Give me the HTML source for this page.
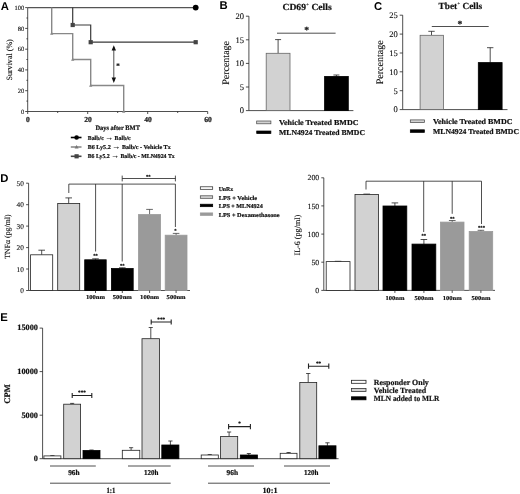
<!DOCTYPE html>
<html lang="en"><head><meta charset="utf-8"><title>Figure</title>
<style>
html,body{margin:0;padding:0;background:#fff;}
body{width:520px;height:494px;overflow:hidden;}
svg{display:block;filter:blur(0.35px);}
text{font-family:"Liberation Serif","DejaVu Serif",serif;fill:#111;text-rendering:geometricPrecision;stroke:#111;stroke-width:0.12px;}
.b{font-weight:bold;stroke:#111;stroke-width:0.2px;}
.pl{stroke:none;font-family:"Liberation Sans","DejaVu Sans",sans-serif;font-weight:bold;font-size:11.3px;fill:#000;}
.ax{stroke:#222;stroke-width:0.8;fill:none;}
.th{stroke:#222;stroke-width:0.8;fill:none;}
</style></head><body>
<svg width="520" height="494" viewBox="0 0 520 494">
<rect x="0" y="0" width="520" height="494" fill="#fff"/>

<!-- Panel A -->
<text transform="translate(0.8,9.7)" class="pl">A</text>
<line x1="27.7" y1="7.6" x2="27.7" y2="111.5" class="ax" />
<line x1="27.7" y1="111.5" x2="207.7" y2="111.5" class="ax" />
<line x1="25.2" y1="111.5" x2="27.7" y2="111.5" class="ax" />
<text x="24.2" y="113.7" font-size="6.5" text-anchor="end" >0</text>
<line x1="25.2" y1="90.7" x2="27.7" y2="90.7" class="ax" />
<text x="24.2" y="92.9" font-size="6.5" text-anchor="end" >20</text>
<line x1="25.2" y1="69.9" x2="27.7" y2="69.9" class="ax" />
<text x="24.2" y="72.1" font-size="6.5" text-anchor="end" >40</text>
<line x1="25.2" y1="49.2" x2="27.7" y2="49.2" class="ax" />
<text x="24.2" y="51.4" font-size="6.5" text-anchor="end" >60</text>
<line x1="25.2" y1="28.4" x2="27.7" y2="28.4" class="ax" />
<text x="24.2" y="30.6" font-size="6.5" text-anchor="end" >80</text>
<line x1="25.2" y1="7.6" x2="27.7" y2="7.6" class="ax" />
<text x="24.2" y="9.8" font-size="6.5" text-anchor="end" >100</text>
<line x1="27.7" y1="111.5" x2="27.7" y2="114.0" class="ax" />
<text x="28.0" y="122.4" font-size="7.6" text-anchor="middle" class="b" >0</text>
<line x1="87.7" y1="111.5" x2="87.7" y2="114.0" class="ax" />
<text x="88.0" y="122.4" font-size="7.6" text-anchor="middle" class="b" >20</text>
<line x1="147.7" y1="111.5" x2="147.7" y2="114.0" class="ax" />
<text x="148.0" y="122.4" font-size="7.6" text-anchor="middle" class="b" >40</text>
<line x1="207.7" y1="111.5" x2="207.7" y2="114.0" class="ax" />
<text x="208.0" y="122.4" font-size="7.6" text-anchor="middle" class="b" >60</text>
<line x1="57.7" y1="111.5" x2="57.7" y2="113.0" class="ax" />
<line x1="117.7" y1="111.5" x2="117.7" y2="113.0" class="ax" />
<line x1="177.7" y1="111.5" x2="177.7" y2="113.0" class="ax" />
<line x1="26.4" y1="101.1" x2="27.7" y2="101.1" class="ax" />
<line x1="26.4" y1="80.3" x2="27.7" y2="80.3" class="ax" />
<line x1="26.4" y1="59.5" x2="27.7" y2="59.5" class="ax" />
<line x1="26.4" y1="38.8" x2="27.7" y2="38.8" class="ax" />
<line x1="26.4" y1="18.0" x2="27.7" y2="18.0" class="ax" />
<text transform="translate(11.6,59.9) rotate(-90)" font-size="8.05" text-anchor="middle">Survival (%)</text>
<text x="117.7" y="129.8" font-size="6.8" text-anchor="middle" class="b" textLength="44.6" lengthAdjust="spacingAndGlyphs">Days after BMT</text>
<path d="M27.7 7.599999999999994H195.7" stroke="#555" stroke-width="1.2" fill="none"/>
<circle cx="195.7" cy="7.6" r="2.9" fill="#000"/>
<path d="M51.7 7.6V33.6H72.7V59.5H90.7V85.5H123.7V111.5" stroke="#888" stroke-width="1.4" fill="none"/>
<path d="M50.1 34.8L51.7 31.6L53.3 34.8Z" fill="#888"/>
<path d="M71.1 60.8L72.7 57.5L74.3 60.8Z" fill="#888"/>
<path d="M89.1 86.7L90.7 83.5L92.3 86.7Z" fill="#888"/>
<path d="M122.1 112.7L123.7 109.5L125.3 112.7Z" fill="#888"/>
<path d="M72.7 7.6V25.0H90.7V42.2H195.7" stroke="#3a3a3a" stroke-width="1.2" fill="none"/>
<rect x="70.6" y="22.9" width="4.2" height="4.2" fill="#444"/>
<rect x="88.6" y="40.1" width="4.2" height="4.2" fill="#444"/>
<rect x="193.6" y="40.1" width="4.2" height="4.2" fill="#444"/>
<path d="M113.8 47V81" stroke="#222" stroke-width="0.8" fill="none"/>
<path d="M111.6 50.6L113.8 45.3L116.0 50.6Z M111.6 77.6L113.8 82.9L116.0 77.6Z" fill="#111"/>
<text x="118.0" y="67.6" font-size="7" text-anchor="middle" class="b" >*</text>
<line x1="70.8" y1="137.5" x2="81.5" y2="137.5" class="ax" style="stroke:#000;stroke-width:1.6"/>
<line x1="70.8" y1="147.0" x2="81.5" y2="147.0" class="ax" style="stroke:#8a8a8a;stroke-width:1.6"/>
<line x1="70.8" y1="156.3" x2="81.5" y2="156.3" class="ax" style="stroke:#444;stroke-width:1.6"/>
<circle cx="76.6" cy="137.5" r="2.3" fill="#000"/>
<path d="M74.6 148.5L76.6 145.0L78.6 148.5Z" fill="#777"/>
<rect x="74.5" y="154.2" width="4.2" height="4.2" fill="#444"/>
<text x="87.7" y="139.6" font-size="6" text-anchor="start" class="b" textLength="43" lengthAdjust="spacingAndGlyphs">Balb/c <tspan font-size="8">→</tspan> Balb/c</text>
<text x="87.7" y="149.1" font-size="6" text-anchor="start" class="b" textLength="83" lengthAdjust="spacingAndGlyphs">B6 Ly5.2 <tspan font-size="8">→</tspan> Balb/c - Vehicle Tx</text>
<text x="87.7" y="158.4" font-size="6" text-anchor="start" class="b" textLength="87" lengthAdjust="spacingAndGlyphs">B6 Ly5.2 <tspan font-size="8">→</tspan> Balb/c - MLN4924 Tx</text>
<!-- Panel B -->
<text transform="translate(219.5,9.2)" class="pl">B</text>
<line x1="248.9" y1="16.2" x2="248.9" y2="110.6" class="ax" />
<line x1="248.9" y1="110.6" x2="353.4" y2="110.6" class="ax" />
<line x1="245.9" y1="110.6" x2="248.9" y2="110.6" class="ax" />
<text x="244.0" y="113.4" font-size="8.5" text-anchor="end" >0</text>
<line x1="245.9" y1="87.0" x2="248.9" y2="87.0" class="ax" />
<text x="244.0" y="89.8" font-size="8.5" text-anchor="end" >5</text>
<line x1="245.9" y1="63.4" x2="248.9" y2="63.4" class="ax" />
<text x="244.0" y="66.2" font-size="8.5" text-anchor="end" >10</text>
<line x1="245.9" y1="39.8" x2="248.9" y2="39.8" class="ax" />
<text x="244.0" y="42.6" font-size="8.5" text-anchor="end" >15</text>
<line x1="245.9" y1="16.2" x2="248.9" y2="16.2" class="ax" />
<text x="244.0" y="19.0" font-size="8.5" text-anchor="end" >20</text>
<text transform="translate(228.9,62.9) rotate(-90)" font-size="10" text-anchor="middle">Percentage</text>
<text x="282.5" y="9.9" font-size="9.3" class="b" textLength="49.2" lengthAdjust="spacingAndGlyphs">CD69<tspan dy="-3.8" font-size="5.2" style="stroke:none">+</tspan><tspan dy="3.8"> Cells</tspan></text>
<path d="M278.1 53.4V39.6M275.1 39.6H281.1" stroke="#222" stroke-width="0.8" fill="none"/>
<rect x="266.2" y="53.3" width="23.8" height="57.3" fill="#d2d2d2" stroke="#666" stroke-width="0.8"/>
<path d="M336.4 76.4V75.0M333.4 75.0H339.4" stroke="#222" stroke-width="0.8" fill="none"/>
<rect x="324.6" y="76.4" width="23.7" height="34.2" fill="#000" stroke="#000" stroke-width="0.8"/>
<line x1="277.0" y1="33.2" x2="335.6" y2="33.2" class="ax" />
<text x="306.7" y="33.3" font-size="9.5" text-anchor="middle" class="b" >*</text>
<rect x="256.7" y="121.0" width="14.2" height="2.8" fill="#d2d2d2" stroke="#444" stroke-width="0.7"/>
<rect x="256.7" y="131.0" width="14.2" height="2.6" fill="#000" stroke="#000" stroke-width="0.7"/>
<text x="279.0" y="125.3" font-size="7.5" text-anchor="start" class="b" textLength="79.5" lengthAdjust="spacingAndGlyphs">Vehicle Treated BMDC</text>
<text x="279.0" y="135.3" font-size="7.5" text-anchor="start" class="b" textLength="86" lengthAdjust="spacingAndGlyphs">MLN4924 Treated BMDC</text>
<!-- Panel C -->
<text transform="translate(374.0,9.7)" class="pl">C</text>
<line x1="402.7" y1="15.2" x2="402.7" y2="109.6" class="ax" />
<line x1="402.7" y1="109.6" x2="507.5" y2="109.6" class="ax" />
<line x1="399.7" y1="109.6" x2="402.7" y2="109.6" class="ax" />
<text x="397.8" y="112.4" font-size="8.5" text-anchor="end" >0</text>
<line x1="399.7" y1="90.7" x2="402.7" y2="90.7" class="ax" />
<text x="397.8" y="93.5" font-size="8.5" text-anchor="end" >5</text>
<line x1="399.7" y1="71.8" x2="402.7" y2="71.8" class="ax" />
<text x="397.8" y="74.6" font-size="8.5" text-anchor="end" >10</text>
<line x1="399.7" y1="53.0" x2="402.7" y2="53.0" class="ax" />
<text x="397.8" y="55.8" font-size="8.5" text-anchor="end" >15</text>
<line x1="399.7" y1="34.1" x2="402.7" y2="34.1" class="ax" />
<text x="397.8" y="36.9" font-size="8.5" text-anchor="end" >20</text>
<line x1="399.7" y1="15.2" x2="402.7" y2="15.2" class="ax" />
<text x="397.8" y="18.0" font-size="8.5" text-anchor="end" >25</text>
<text transform="translate(382.5,62.3) rotate(-90)" font-size="10" text-anchor="middle">Percentage</text>
<text x="438.6" y="9.1" font-size="9.3" class="b" textLength="43.5" lengthAdjust="spacingAndGlyphs">Tbet<tspan dy="-3.8" font-size="5.2" style="stroke:none">+</tspan><tspan dy="3.8"> Cells</tspan></text>
<path d="M431.5 35.3V31.3M428.3 31.3H434.7" stroke="#222" stroke-width="0.8" fill="none"/>
<rect x="420.1" y="35.3" width="23.3" height="74.3" fill="#d2d2d2" stroke="#666" stroke-width="0.8"/>
<path d="M490.2 62.6V47.7M487.0 47.7H493.4" stroke="#222" stroke-width="0.8" fill="none"/>
<rect x="478.3" y="62.6" width="23.8" height="47.0" fill="#000" stroke="#000" stroke-width="0.8"/>
<line x1="431.8" y1="26.5" x2="488.7" y2="26.5" class="ax" />
<text x="459.8" y="26.6" font-size="9.5" text-anchor="middle" class="b" >*</text>
<rect x="410.3" y="119.9" width="14.1" height="2.7" fill="#d2d2d2" stroke="#444" stroke-width="0.7"/>
<rect x="410.3" y="129.8" width="14.1" height="2.6" fill="#000" stroke="#000" stroke-width="0.7"/>
<text x="433.0" y="123.9" font-size="7.5" text-anchor="start" class="b" textLength="79.5" lengthAdjust="spacingAndGlyphs">Vehicle Treated BMDC</text>
<text x="433.0" y="133.8" font-size="7.5" text-anchor="start" class="b" textLength="86" lengthAdjust="spacingAndGlyphs">MLN4924 Treated BMDC</text>
<!-- Panel D -->
<text transform="translate(0.2,182.4)" class="pl">D</text>
<line x1="28.6" y1="183.2" x2="28.6" y2="290.5" class="ax" />
<line x1="28.6" y1="290.5" x2="190.0" y2="290.5" class="ax" />
<line x1="26.1" y1="290.5" x2="28.6" y2="290.5" class="ax" />
<text x="23.9" y="293.0" font-size="7.3" text-anchor="end" >0</text>
<line x1="26.1" y1="269.0" x2="28.6" y2="269.0" class="ax" />
<text x="23.9" y="271.5" font-size="7.3" text-anchor="end" >10</text>
<line x1="26.1" y1="247.6" x2="28.6" y2="247.6" class="ax" />
<text x="23.9" y="250.1" font-size="7.3" text-anchor="end" >20</text>
<line x1="26.1" y1="226.1" x2="28.6" y2="226.1" class="ax" />
<text x="23.9" y="228.6" font-size="7.3" text-anchor="end" >30</text>
<line x1="26.1" y1="204.7" x2="28.6" y2="204.7" class="ax" />
<text x="23.9" y="207.2" font-size="7.3" text-anchor="end" >40</text>
<line x1="26.1" y1="183.2" x2="28.6" y2="183.2" class="ax" />
<text x="23.9" y="185.7" font-size="7.3" text-anchor="end" >50</text>
<text transform="translate(9.9,236.6) rotate(-90)" font-size="7.8" text-anchor="middle">TNFα (pg/ml)</text>
<path d="M41.7 254.8V250.2M38.4 250.2H45.0" stroke="#222" stroke-width="0.8" fill="none"/>
<rect x="30.6" y="254.8" width="22.1" height="35.7" fill="#fff" stroke="#222" stroke-width="0.8"/>
<path d="M68.7 203.5V197.9M65.4 197.9H72.0" stroke="#222" stroke-width="0.8" fill="none"/>
<rect x="57.7" y="203.5" width="22.0" height="87.0" fill="#d2d2d2" stroke="#222" stroke-width="0.8"/>
<path d="M95.5 259.8V258.8M92.2 258.8H98.8" stroke="#222" stroke-width="0.8" fill="none"/>
<rect x="84.7" y="259.8" width="21.5" height="30.7" fill="#000" stroke="#000" stroke-width="0.8"/>
<path d="M122.3 268.5V267.8M119.0 267.8H125.6" stroke="#222" stroke-width="0.8" fill="none"/>
<rect x="111.4" y="268.5" width="21.8" height="22.0" fill="#000" stroke="#000" stroke-width="0.8"/>
<path d="M149.6 214.6V209.4M146.2 209.4H152.9" stroke="#444" stroke-width="0.8" fill="none"/>
<rect x="138.5" y="214.6" width="22.1" height="75.9" fill="#9a9a9a" stroke="#9a9a9a" stroke-width="0.8"/>
<path d="M176.1 235.2V233.4M172.8 233.4H179.4" stroke="#444" stroke-width="0.8" fill="none"/>
<rect x="165.2" y="235.2" width="21.8" height="55.3" fill="#9a9a9a" stroke="#9a9a9a" stroke-width="0.8"/>
<line x1="95.5" y1="290.5" x2="95.5" y2="293.0" class="ax" />
<text x="95.5" y="299.0" font-size="6" text-anchor="middle" class="b" textLength="19" lengthAdjust="spacingAndGlyphs">100nm</text>
<line x1="122.3" y1="290.5" x2="122.3" y2="293.0" class="ax" />
<text x="122.3" y="299.0" font-size="6" text-anchor="middle" class="b" textLength="19" lengthAdjust="spacingAndGlyphs">500nm</text>
<line x1="149.6" y1="290.5" x2="149.6" y2="293.0" class="ax" />
<text x="149.6" y="299.0" font-size="6" text-anchor="middle" class="b" textLength="19" lengthAdjust="spacingAndGlyphs">100nm</text>
<line x1="176.1" y1="290.5" x2="176.1" y2="293.0" class="ax" />
<text x="176.1" y="299.0" font-size="6" text-anchor="middle" class="b" textLength="19" lengthAdjust="spacingAndGlyphs">500nm</text>
<path d="M68.8 193V184.1H175.4V227M95.6 184.1V251.5M122.2 184.1V261.5" class="th"/>
<path d="M122.2 175.6V181.4M122.2 178.5H175.4M175.4 175.6V181.4" class="ax"/>
<text x="148.3" y="178.0" font-size="4.6" text-anchor="middle" class="b" >**</text>
<text x="95.6" y="257.0" font-size="4.6" text-anchor="middle" class="b" >**</text>
<text x="122.2" y="266.6" font-size="4.6" text-anchor="middle" class="b" >**</text>
<text x="175.4" y="232.4" font-size="4.6" text-anchor="middle" class="b" >*</text>
<rect x="200.3" y="186.8" width="12.4" height="2.5" fill="#fff" stroke="#222" stroke-width="0.7"/>
<rect x="200.3" y="195.8" width="12.4" height="2.5" fill="#d2d2d2" stroke="#444" stroke-width="0.7"/>
<rect x="200.3" y="204.2" width="12.4" height="2.5" fill="#000" stroke="#000" stroke-width="0.7"/>
<rect x="200.3" y="212.9" width="12.4" height="2.5" fill="#9a9a9a" stroke="#9a9a9a" stroke-width="0.7"/>
<text x="218.7" y="190.5" font-size="6" text-anchor="start" class="b" textLength="14.5" lengthAdjust="spacingAndGlyphs">UnRx</text>
<text x="218.7" y="199.5" font-size="6" text-anchor="start" class="b" textLength="38.5" lengthAdjust="spacingAndGlyphs">LPS + Vehicle</text>
<text x="218.7" y="208.0" font-size="6" text-anchor="start" class="b" textLength="44" lengthAdjust="spacingAndGlyphs">LPS + MLN4924</text>
<text x="218.7" y="216.7" font-size="6" text-anchor="start" class="b" textLength="61" lengthAdjust="spacingAndGlyphs">LPS + Dexamethasone</text>
<line x1="323.8" y1="177.8" x2="323.8" y2="290.4" class="ax" />
<line x1="323.8" y1="290.4" x2="495.0" y2="290.4" class="ax" />
<line x1="321.3" y1="290.4" x2="323.8" y2="290.4" class="ax" />
<text x="319.2" y="293.0" font-size="7.8" text-anchor="end" >0</text>
<line x1="321.3" y1="262.2" x2="323.8" y2="262.2" class="ax" />
<text x="319.2" y="264.9" font-size="7.8" text-anchor="end" >50</text>
<line x1="321.3" y1="234.1" x2="323.8" y2="234.1" class="ax" />
<text x="319.2" y="236.7" font-size="7.8" text-anchor="end" >100</text>
<line x1="321.3" y1="205.9" x2="323.8" y2="205.9" class="ax" />
<text x="319.2" y="208.5" font-size="7.8" text-anchor="end" >150</text>
<line x1="321.3" y1="177.8" x2="323.8" y2="177.8" class="ax" />
<text x="319.2" y="180.4" font-size="7.8" text-anchor="end" >200</text>
<text transform="translate(300.2,235.2) rotate(-90)" font-size="8.1" text-anchor="middle">IL-6 (pg/ml)</text>
<path d="M338.1 261.6V261.3M334.8 261.3H341.4" stroke="#222" stroke-width="0.8" fill="none"/>
<rect x="326.2" y="261.6" width="23.8" height="28.8" fill="#fff" stroke="#222" stroke-width="0.8"/>
<path d="M366.8 194.5V194.1M363.4 194.1H370.1" stroke="#222" stroke-width="0.8" fill="none"/>
<rect x="355.0" y="194.5" width="23.5" height="95.9" fill="#d2d2d2" stroke="#222" stroke-width="0.8"/>
<path d="M394.9 206.0V202.9M391.6 202.9H398.2" stroke="#222" stroke-width="0.8" fill="none"/>
<rect x="383.0" y="206.0" width="23.8" height="84.4" fill="#000" stroke="#000" stroke-width="0.8"/>
<path d="M423.9 244.1V239.5M420.6 239.5H427.2" stroke="#222" stroke-width="0.8" fill="none"/>
<rect x="412.0" y="244.1" width="23.8" height="46.3" fill="#000" stroke="#000" stroke-width="0.8"/>
<path d="M452.2 222.1V220.5M448.9 220.5H455.6" stroke="#444" stroke-width="0.8" fill="none"/>
<rect x="440.5" y="222.1" width="23.5" height="68.3" fill="#9a9a9a" stroke="#9a9a9a" stroke-width="0.8"/>
<path d="M480.9 231.5V230.3M477.6 230.3H484.2" stroke="#444" stroke-width="0.8" fill="none"/>
<rect x="469.2" y="231.5" width="23.5" height="58.9" fill="#9a9a9a" stroke="#9a9a9a" stroke-width="0.8"/>
<line x1="394.9" y1="290.4" x2="394.9" y2="292.9" class="ax" />
<text x="394.9" y="299.5" font-size="6" text-anchor="middle" class="b" textLength="19" lengthAdjust="spacingAndGlyphs">100nm</text>
<line x1="423.9" y1="290.4" x2="423.9" y2="292.9" class="ax" />
<text x="423.9" y="299.5" font-size="6" text-anchor="middle" class="b" textLength="19" lengthAdjust="spacingAndGlyphs">500nm</text>
<line x1="452.2" y1="290.4" x2="452.2" y2="292.9" class="ax" />
<text x="452.2" y="299.5" font-size="6" text-anchor="middle" class="b" textLength="19" lengthAdjust="spacingAndGlyphs">100nm</text>
<line x1="480.9" y1="290.4" x2="480.9" y2="292.9" class="ax" />
<text x="480.9" y="299.5" font-size="6" text-anchor="middle" class="b" textLength="19" lengthAdjust="spacingAndGlyphs">500nm</text>
<path d="M366 189.5V181.2H481.5V224M423.7 181.2V232M452.2 181.2V213.8" class="th"/>
<text x="423.7" y="236.8" font-size="4.6" text-anchor="middle" class="b" >**</text>
<text x="452.2" y="219.8" font-size="4.6" text-anchor="middle" class="b" >**</text>
<text x="481.5" y="229.4" font-size="4.6" text-anchor="middle" class="b" >***</text>
<!-- Panel E -->
<text transform="translate(0.2,320.6)" class="pl">E</text>
<line x1="42.6" y1="328.1" x2="42.6" y2="458.7" class="ax" />
<line x1="42.6" y1="458.7" x2="338.6" y2="458.7" class="ax" />
<line x1="39.6" y1="458.7" x2="42.6" y2="458.7" class="ax" />
<text x="38.0" y="461.0" font-size="8.3" text-anchor="end" class="b" >0</text>
<line x1="39.6" y1="415.2" x2="42.6" y2="415.2" class="ax" />
<text x="38.0" y="417.5" font-size="8.3" text-anchor="end" class="b" >5000</text>
<line x1="39.6" y1="371.6" x2="42.6" y2="371.6" class="ax" />
<text x="38.0" y="373.9" font-size="8.3" text-anchor="end" class="b" >10000</text>
<line x1="39.6" y1="328.1" x2="42.6" y2="328.1" class="ax" />
<text x="38.0" y="330.4" font-size="8.3" text-anchor="end" class="b" >15000</text>
<text transform="translate(10.3,394) rotate(-90)" font-size="8.5" text-anchor="middle" class="b">CPM</text>
<path d="M52.4 455.9V455.6M50.3 455.6H54.5" stroke="#222" stroke-width="0.8" fill="none"/>
<rect x="43.9" y="455.9" width="17.0" height="2.8" fill="#fff" stroke="#222" stroke-width="0.8"/>
<path d="M72.2 404.2V403.4M70.1 403.4H74.2" stroke="#222" stroke-width="0.8" fill="none"/>
<rect x="63.7" y="404.2" width="16.9" height="54.5" fill="#d2d2d2" stroke="#222" stroke-width="0.8"/>
<path d="M91.5 450.5V450.0M89.4 450.0H93.6" stroke="#222" stroke-width="0.8" fill="none"/>
<rect x="83.0" y="450.5" width="17.0" height="8.2" fill="#000" stroke="#000" stroke-width="0.8"/>
<path d="M131.1 450.3V447.7M129.0 447.7H133.2" stroke="#222" stroke-width="0.8" fill="none"/>
<rect x="122.3" y="450.3" width="17.5" height="8.4" fill="#fff" stroke="#222" stroke-width="0.8"/>
<path d="M150.8 338.7V327.5M148.7 327.5H152.8" stroke="#222" stroke-width="0.8" fill="none"/>
<rect x="142.0" y="338.7" width="17.5" height="120.0" fill="#d2d2d2" stroke="#222" stroke-width="0.8"/>
<path d="M170.4 445.0V441.0M168.3 441.0H172.5" stroke="#222" stroke-width="0.8" fill="none"/>
<rect x="161.8" y="445.0" width="17.1" height="13.7" fill="#000" stroke="#000" stroke-width="0.8"/>
<path d="M209.8 455.0V454.6M207.7 454.6H211.8" stroke="#222" stroke-width="0.8" fill="none"/>
<rect x="201.2" y="455.0" width="17.1" height="3.7" fill="#fff" stroke="#222" stroke-width="0.8"/>
<path d="M229.1 436.5V432.0M227.0 432.0H231.2" stroke="#222" stroke-width="0.8" fill="none"/>
<rect x="220.6" y="436.5" width="17.1" height="22.2" fill="#d2d2d2" stroke="#222" stroke-width="0.8"/>
<path d="M248.8 455.0V453.5M246.8 453.5H250.9" stroke="#222" stroke-width="0.8" fill="none"/>
<rect x="240.3" y="455.0" width="17.1" height="3.7" fill="#000" stroke="#000" stroke-width="0.8"/>
<path d="M288.6 453.3V452.5M286.5 452.5H290.7" stroke="#222" stroke-width="0.8" fill="none"/>
<rect x="280.2" y="453.3" width="16.8" height="5.4" fill="#fff" stroke="#222" stroke-width="0.8"/>
<path d="M308.2 382.4V373.5M306.1 373.5H310.4" stroke="#222" stroke-width="0.8" fill="none"/>
<rect x="299.8" y="382.4" width="16.9" height="76.3" fill="#d2d2d2" stroke="#222" stroke-width="0.8"/>
<path d="M327.4 445.8V442.8M325.3 442.8H329.6" stroke="#222" stroke-width="0.8" fill="none"/>
<rect x="318.9" y="445.8" width="17.1" height="12.9" fill="#000" stroke="#000" stroke-width="0.8"/>
<path d="M72.2 392.9V398.1M72.2 395.5H91.8M91.8 392.9V398.1" class="ax" style="stroke-width:1.1"/>
<text x="82.0" y="394.3" font-size="5.2" text-anchor="middle" class="b" >***</text>
<path d="M151.2 319.4V324.6M151.2 322.0H171.2M171.2 319.4V324.6" class="ax" style="stroke-width:1.1"/>
<text x="161.2" y="320.8" font-size="5.2" text-anchor="middle" class="b" >***</text>
<path d="M228.6 424.0V429.20000000000005M228.6 426.6H250.4M250.4 424.0V429.20000000000005" class="ax" style="stroke-width:1.1"/>
<text x="239.5" y="425.4" font-size="5.2" text-anchor="middle" class="b" >*</text>
<path d="M308.5 363.59999999999997V368.8M308.5 366.2H328.8M328.8 363.59999999999997V368.8" class="ax" style="stroke-width:1.1"/>
<text x="318.6" y="365.0" font-size="5.2" text-anchor="middle" class="b" >**</text>
<line x1="50.0" y1="466.0" x2="95.8" y2="466.0" class="ax" />
<text x="73.9" y="474.6" font-size="7.5" text-anchor="middle" class="b" textLength="11.5" lengthAdjust="spacingAndGlyphs">96h</text>
<line x1="128.0" y1="466.0" x2="170.7" y2="466.0" class="ax" />
<text x="151.2" y="474.6" font-size="7.5" text-anchor="middle" class="b" textLength="14.5" lengthAdjust="spacingAndGlyphs">120h</text>
<line x1="208.0" y1="466.0" x2="254.0" y2="466.0" class="ax" />
<text x="232.3" y="474.6" font-size="7.5" text-anchor="middle" class="b" textLength="11.5" lengthAdjust="spacingAndGlyphs">96h</text>
<line x1="284.0" y1="466.0" x2="330.0" y2="466.0" class="ax" />
<text x="311.3" y="474.6" font-size="7.5" text-anchor="middle" class="b" textLength="14.5" lengthAdjust="spacingAndGlyphs">120h</text>
<line x1="50.0" y1="483.2" x2="170.7" y2="483.2" class="ax" />
<line x1="208.0" y1="483.2" x2="330.0" y2="483.2" class="ax" />
<text x="111.0" y="493.3" font-size="7.8" text-anchor="middle" class="b" textLength="9" lengthAdjust="spacingAndGlyphs">1:1</text>
<text x="270.0" y="493.3" font-size="7.8" text-anchor="middle" class="b" textLength="15" lengthAdjust="spacingAndGlyphs">10:1</text>
<rect x="351.5" y="380.3" width="14.5" height="3.0" fill="#fff" stroke="#222" stroke-width="0.8"/>
<rect x="351.5" y="388.5" width="14.5" height="3.0" fill="#d2d2d2" stroke="#333" stroke-width="0.8"/>
<rect x="351.5" y="396.8" width="14.5" height="3.0" fill="#000" stroke="#000" stroke-width="0.8"/>
<text x="373.8" y="384.5" font-size="8" text-anchor="start" class="b" textLength="55" lengthAdjust="spacingAndGlyphs">Responder Only</text>
<text x="373.8" y="392.7" font-size="8" text-anchor="start" class="b" textLength="52.5" lengthAdjust="spacingAndGlyphs">Vehicle Treated</text>
<text x="373.8" y="401.2" font-size="8" text-anchor="start" class="b" textLength="65.5" lengthAdjust="spacingAndGlyphs">MLN added to MLR</text>
</svg></body></html>
